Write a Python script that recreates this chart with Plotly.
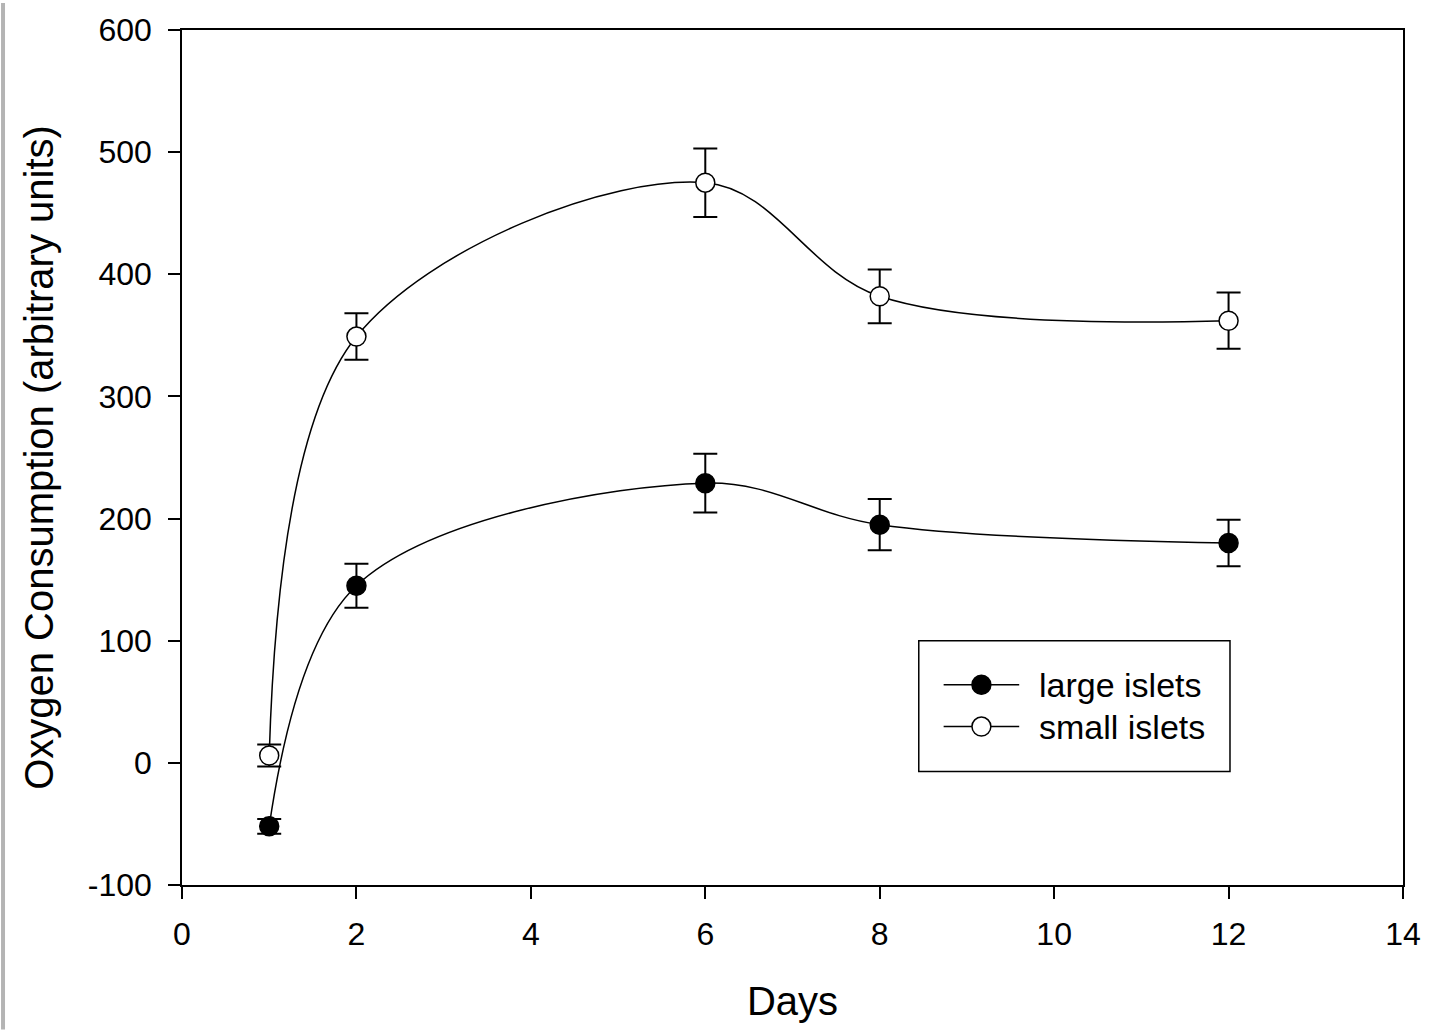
import plotly.graph_objects as go

days = [1, 2, 6, 8, 12]
large_vals = [-52, 145, 229, 195, 180]
large_err = [6, 18, 24, 21, 19]
small_vals = [6, 349, 475, 382, 362]
small_err = [9, 19, 28, 22, 23]

x_ticks = [0, 2, 4, 6, 8, 10, 12, 14]
y_ticks = [-100, 0, 100, 200, 300, 400, 500, 600]

series_names = ["large islets", "small islets"]
series_fill = ["black", "white"]

FONT = "Liberation Sans, Arial, sans-serif"

# plot area in pixels
L, R, T, B = 182, 1410, 27, 885
W_PA, H_PA = R - L, B - T


def px(xp):
    return (xp - L) / W_PA


def py(yp):
    return (B - yp) / H_PA


fig = go.Figure()
for vals, errs, name, fill in [(large_vals, large_err, series_names[0], series_fill[0]),
                               (small_vals, small_err, series_names[1], series_fill[1])]:
    fig.add_trace(go.Scatter(
        x=days, y=vals, name=name, mode="lines+markers", showlegend=False,
        line=dict(color="black", width=1.5, shape="spline", smoothing=1),
        marker=dict(symbol="circle", size=19, color=fill, line=dict(color="black", width=1.5)),
        error_y=dict(type="data", array=errs, visible=True, color="black", thickness=2, width=12),
    ))

# manual legend (box, sample lines, circles, labels)
shapes = [dict(type="rect", xref="paper", yref="paper",
               x0=-L/W_PA, x1=-(L - 4)/W_PA, y0=-(1030 - B)/H_PA, y1=1 + T/H_PA,
               fillcolor="#b4b4b4", line=dict(width=0), layer="above"),
          dict(type="rect", xref="paper", yref="paper",
               x0=px(923), x1=px(1236), y0=py(771), y1=py(640),
               fillcolor="rgba(0,0,0,0)", line=dict(color="black", width=1.5))]
annotations = []
for i, (name, fill) in enumerate(zip(series_names, series_fill)):
    yc = 684 + i * 42
    shapes.append(dict(type="line", xref="paper", yref="paper",
                       x0=px(948), x1=px(1024), y0=py(yc), y1=py(yc),
                       line=dict(color="black", width=1.5)))
    shapes.append(dict(type="circle", xref="paper", yref="paper",
                       x0=px(986 - 9.5), x1=px(986 + 9.5), y0=py(yc + 9.5), y1=py(yc - 9.5),
                       fillcolor=fill, line=dict(color="black", width=1.5)))
    annotations.append(dict(xref="paper", yref="paper", x=px(1042), y=py(yc),
                            xanchor="left", yanchor="middle", showarrow=False,
                            text=name, font=dict(family=FONT, size=34, color="black")))

fig.update_layout(
    width=1433, height=1030,
    margin=dict(l=L, r=1433 - R, t=T, b=1030 - B),
    paper_bgcolor="white", plot_bgcolor="white",
    font=dict(family=FONT, size=33, color="black"),
    showlegend=False,
    xaxis=dict(
        range=[0, 14], tickvals=x_ticks, ticktext=[str(v) for v in x_ticks],
        showgrid=False, zeroline=False, showline=True, linecolor="black", linewidth=1.5,
        mirror=True, ticks="outside", ticklen=12, tickwidth=1.5, tickcolor="black",
        ticklabelstandoff=8, ticklabeloverflow="allow",
        title=dict(text="Days", font=dict(size=40), standoff=36),
        tickfont=dict(size=32),
    ),
    yaxis=dict(
        range=[-100, 600], tickvals=y_ticks, ticktext=[str(v) for v in y_ticks],
        showgrid=False, zeroline=False, showline=True, linecolor="black", linewidth=1.5,
        mirror=True, ticks="outside", ticklen=12, tickwidth=1.5, tickcolor="black",
        ticklabelstandoff=10, ticklabeloverflow="allow",
        title=dict(text="Oxygen Consumption (arbitrary units)", font=dict(size=40), standoff=22),
        tickfont=dict(size=32),
    ),
    shapes=shapes,
    annotations=annotations,
)

fig.write_html("out.html")
